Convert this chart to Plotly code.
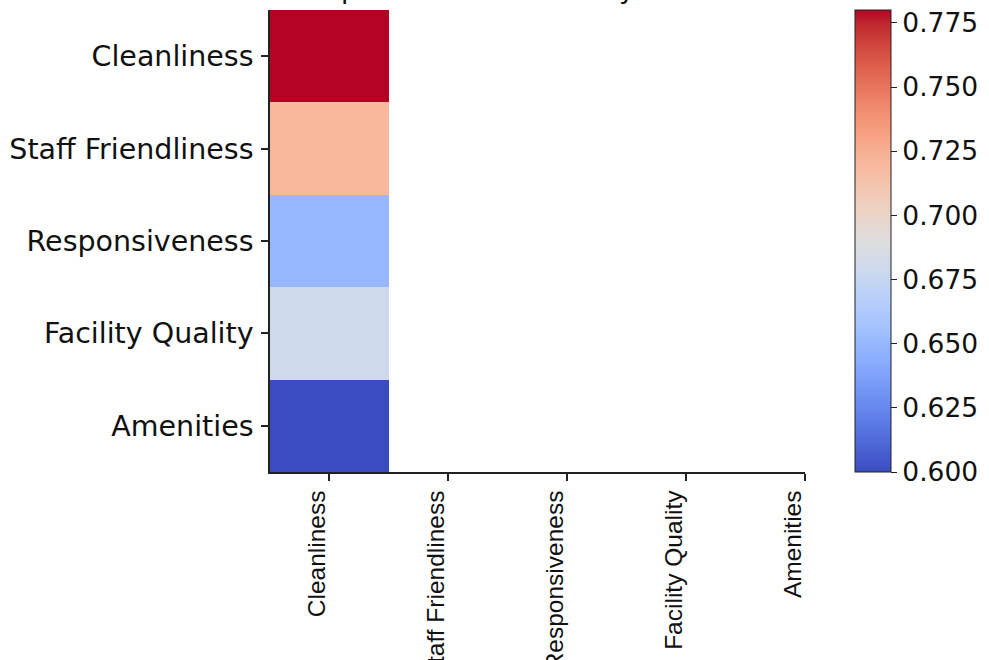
import plotly.graph_objects as go

# ---- data ----
factors = ["Cleanliness", "Staff Friendliness", "Responsiveness", "Facility Quality", "Amenities"]
column_labels = ["Cleanliness", "Staff Friendliness", "Responsiveness", "Facility Quality", "Amenities"]
cleanliness_corr = [0.78, 0.72, 0.65, 0.68, 0.60]
colorbar_ticks = [0.600, 0.625, 0.650, 0.675, 0.700, 0.725, 0.750, 0.775]
title_text = "Heatmap of Customer Survey Correlations"

# matplotlib "coolwarm" (Moreland) control points
coolwarm_rgb = [
    (59, 76, 192), (68, 90, 204), (77, 104, 215), (87, 117, 225), (98, 130, 234),
    (108, 142, 241), (119, 154, 247), (130, 165, 251), (141, 176, 254), (152, 185, 255),
    (163, 194, 255), (174, 201, 253), (184, 208, 249), (194, 213, 244), (204, 217, 238),
    (213, 219, 230), (221, 221, 221), (229, 216, 209), (236, 211, 197), (241, 204, 185),
    (245, 196, 173), (247, 187, 160), (247, 177, 148), (247, 166, 135), (244, 154, 123),
    (241, 141, 111), (236, 127, 99), (229, 112, 88), (222, 96, 77), (213, 80, 66),
    (203, 62, 56), (192, 40, 47), (180, 4, 38),
]
n = len(coolwarm_rgb)
coolwarm = [[i / (n - 1), "rgb(%d,%d,%d)" % c] for i, c in enumerate(coolwarm_rgb)]

# only the first column holds values; the others are empty
z = [[v] + [None] * (len(column_labels) - 1) for v in cleanliness_corr]

geo_font = "DejaVu Sans"

fig = go.Figure(
    go.Heatmap(
        z=z,
        x=list(range(len(column_labels))),
        y=list(range(len(factors))),
        colorscale=coolwarm,
        zmin=0.60,
        zmax=0.78,
        hoverongaps=False,
        colorbar=dict(
            x=1.0935,
            xanchor="left",
            xpad=0,
            y=0.5,
            yanchor="middle",
            len=1,
            lenmode="fraction",
            ypad=0,
            thickness=36,
            outlinewidth=1,
            outlinecolor="#222",
            ticks="outside",
            ticklen=6,
            tickwidth=1.2,
            tickcolor="#222",
            tickvals=colorbar_ticks,
            tickformat=".3f",
            tickfont=dict(family=geo_font, size=26.5, color="#111"),
        ),
    )
)

fig.update_layout(
    width=989,
    height=660,
    margin=dict(l=270, r=184, t=10, b=188),
    paper_bgcolor="white",
    plot_bgcolor="white",
    annotations=[
        dict(
            text=title_text,
            font=dict(family=geo_font, size=27, color="#111"),
            xref="paper",
            yref="paper",
            x=0.468,
            xanchor="center",
            y=1.0087,
            yanchor="bottom",
            showarrow=False,
        )
    ],
)

fig.update_xaxes(
    range=[-0.5, len(column_labels) - 1],
    tickvals=list(range(len(column_labels))),
    ticktext=column_labels,
    tickangle=-90,
    ticks="outside",
    ticklen=7,
    tickwidth=1.5,
    tickcolor="#222",
    showline=True,
    linecolor="#222",
    linewidth=1.5,
    showgrid=False,
    zeroline=False,
    automargin=False,
    ticklabelshift=-12,
    tickfont=dict(family="Liberation Sans, Arial", size=24.5, color="#111"),
)
fig.update_yaxes(
    range=[len(factors) - 0.5, -0.5],
    tickvals=list(range(len(factors))),
    ticktext=factors,
    ticks="outside",
    ticklen=7,
    tickwidth=1.5,
    tickcolor="#222",
    showline=True,
    linecolor="#222",
    linewidth=1.5,
    showgrid=False,
    zeroline=False,
    automargin=False,
    ticklabelstandoff=2,
    tickfont=dict(family=geo_font, size=28.5, color="#111"),
)

fig.write_html("out.html")
